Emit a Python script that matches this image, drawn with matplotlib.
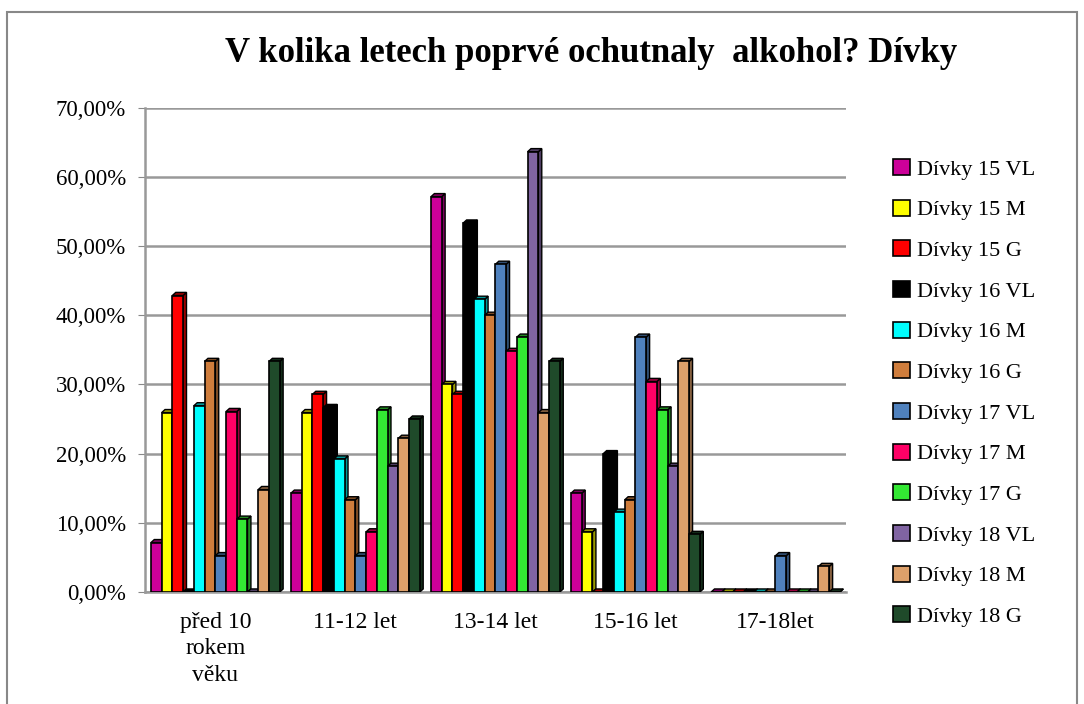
import matplotlib
matplotlib.use("Agg")
import matplotlib.pyplot as plt
from matplotlib.patches import Polygon, Rectangle
from matplotlib.ticker import FuncFormatter, MultipleLocator
import matplotlib.colors as mcolors
import numpy as np

categories = ["před 10\nrokem\nvěku", "11-12 let", "13-14 let", "15-16 let", "17-18let"]
series_names = ["Dívky 15 VL", "Dívky 15 M", "Dívky 15 G", "Dívky 16 VL", "Dívky 16 M",
                "Dívky 16 G", "Dívky 17 VL", "Dívky 17 M", "Dívky 17 G", "Dívky 18 VL",
                "Dívky 18 M", "Dívky 18 G"]
colors = ["#CC0099", "#FFFF00", "#FF0000", "#000000", "#00FFFF", "#CF7D3C",
          "#4F81BD", "#FF0066", "#33E833", "#8064A2", "#DDA06A", "#1F4A2A"]

d15vl = [7.14, 14.29, 57.14, 14.29, 0.0]
d15m = [25.93, 25.93, 30.00, 8.70, 0.0]
d15g = [42.86, 28.57, 28.57, 0.0, 0.0]
d16vl = [0.0, 26.67, 53.33, 20.00, 0.0]
d16m = [26.92, 19.23, 42.31, 11.54, 0.0]
d16g = [33.33, 13.33, 40.00, 13.33, 0.0]
d17vl = [5.26, 5.26, 47.37, 36.84, 5.26]
d17m = [26.09, 8.70, 34.78, 30.43, 0.0]
d17g = [10.53, 26.32, 36.84, 26.32, 0.0]
d18vl = [0.0, 18.18, 63.64, 18.18, 0.0]
d18m = [14.81, 22.22, 25.93, 33.33, 3.70]
d18g = [33.33, 25.00, 33.33, 8.33, 0.0]
series_values = [d15vl, d15m, d15g, d16vl, d16m, d16g, d17vl, d17m, d17g, d18vl, d18m, d18g]

serif = ["Liberation Serif", "DejaVu Serif"]
plt.rcParams["font.family"] = serif

fig = plt.figure(figsize=(10.84, 7.04), dpi=100)
ax = fig.add_axes([0.134, 0.159, 0.646, 0.688])

n_s = len(series_names)
x = np.arange(len(categories))
group_w = 0.92
w = group_w / n_s
dx = w * 0.32
dy = 0.45

for i, (name, vals, c) in enumerate(zip(series_names, series_values, colors)):
    xs = x - group_w / 2 + w * i + w / 2
    ax.bar(xs, vals, width=w, color=c, edgecolor="black", linewidth=1.2, label=name, zorder=3)
    dark = np.array(mcolors.to_rgb(c)) * 0.6
    for xi, v in zip(xs, vals):
        l, r = xi - w / 2, xi + w / 2
        side = Polygon([(r, 0), (r + dx, dy), (r + dx, v + dy), (r, v)], closed=True,
                       facecolor=dark, edgecolor="black", linewidth=1.0, zorder=2.9)
        top = Polygon([(l, v), (l + dx, v + dy), (r + dx, v + dy), (r, v)], closed=True,
                      facecolor=dark, edgecolor="black", linewidth=1.0, zorder=2.9)
        ax.add_patch(side)
        ax.add_patch(top)

ax.set_xlim(-0.5, len(categories) - 0.5)
ax.set_ylim(0, 70)
ax.yaxis.set_major_locator(MultipleLocator(10))
ax.yaxis.set_major_formatter(FuncFormatter(lambda v, p: f"{v:.2f}".replace(".", ",") + "%"))
ax.set_xticks(x)
ax.set_xticklabels(categories, fontsize=17, linespacing=1.35)
ax.tick_params(axis="y", labelsize=16.5, length=5, color="#888888", pad=9)
ax.tick_params(axis="x", length=0, pad=14)
ax.grid(axis="y", color="#999999", linewidth=1.8, zorder=0)
for s in ["top", "right"]:
    ax.spines[s].set_visible(False)
ax.spines["left"].set_color("#999999")
ax.spines["left"].set_linewidth(1.8)
ax.spines["bottom"].set_color("#999999")
ax.spines["bottom"].set_linewidth(1.8)

fig.suptitle("V kolika letech poprvé ochutnaly  alkohol? Dívky", x=0.545, y=0.948,
             fontsize=25, fontweight="bold", family=serif)

leg = fig.legend(loc="upper left", bbox_to_anchor=(0.816, 0.787), frameon=False,
                 fontsize=16, handlelength=0.75, handleheight=0.75, handletextpad=0.3,
                 labelspacing=0.89, borderaxespad=0)

fig.patches.append(Rectangle((0.0065, -0.05), 0.987, 1.033, transform=fig.transFigure,
                             fill=False, edgecolor="#888888", linewidth=1.5))

fig.savefig("out.png", dpi=100)
